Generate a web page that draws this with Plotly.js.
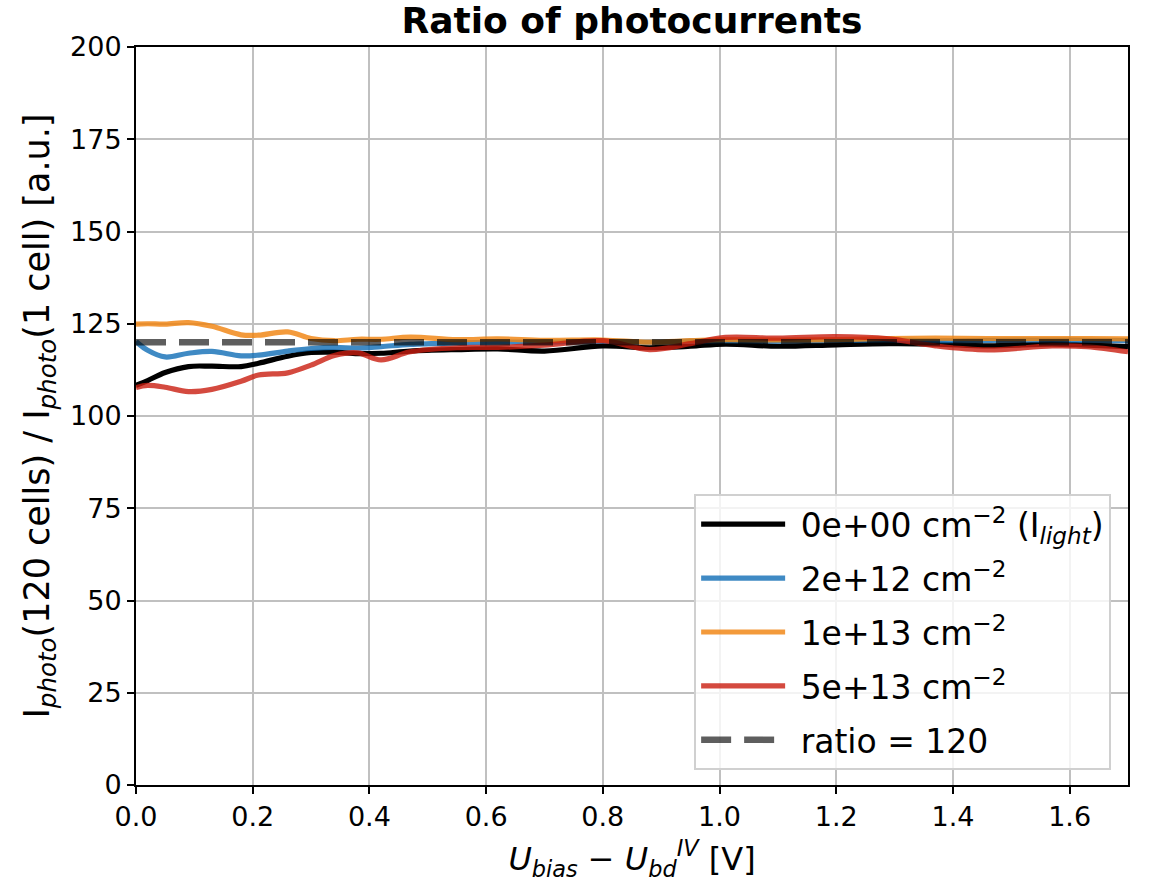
<!DOCTYPE html>
<html>
<head>
<meta charset="utf-8">
<script src="https://cdn.plot.ly/plotly-3.0.1.min.js"></script>
<style>
  html, body { margin: 0; padding: 0; background: #ffffff; }
  #chart { width: 1172px; height: 892px; }
</style>
</head>
<body>
<div id="chart"></div>
<script>
// bias over breakdown voltage [V]
const biasX = [0, 0.02, 0.05, 0.09, 0.13, 0.18, 0.21, 0.26, 0.3, 0.34, 0.38, 0.42, 0.47, 0.55,
               0.62, 0.7, 0.8, 0.88, 0.95, 1.01, 1.1, 1.2, 1.29, 1.37, 1.46, 1.57, 1.63, 1.7];

// ratio I_photo(120 cells) / I_photo(1 cell) per fluence
const ratioF0 = [108.3, 109.6, 111.8, 113.4, 113.5, 113.4, 114.3, 116.2, 117.2, 117.3, 116.9, 117.0, 117.6, 118.0,
                 118.2, 117.6, 119.0, 118.5, 118.9, 119.5, 118.9, 119.3, 119.6, 119.5, 119.0, 119.5, 119.2, 118.8];
const ratioF2e12 = [120.2, 117.8, 116.0, 117.0, 117.5, 116.3, 116.5, 117.6, 118.3, 118.6, 118.4, 118.8, 119.4, 119.8,
                    120.0, 120.0, 120.3, 120.0, 120.3, 120.4, 120.3, 120.5, 120.6, 120.4, 120.5, 120.6, 120.5, 120.4];
const ratioF1e13 = [124.9, 125.0, 124.9, 125.3, 124.3, 122.0, 121.9, 122.8, 121.0, 120.4, 120.8, 120.8, 121.4, 120.7,
                    120.9, 120.5, 120.6, 120.0, 120.4, 120.7, 120.6, 120.7, 121.0, 121.1, 121.0, 121.0, 121.0, 120.9];
const ratioF5e13 = [107.7, 108.3, 107.8, 106.6, 107.2, 109.4, 111.1, 111.7, 113.8, 116.4, 117.1, 115.2, 117.4, 118.5,
                    118.6, 119.2, 120.4, 118.0, 119.6, 121.3, 121.1, 121.5, 120.9, 119.0, 117.9, 119.0, 118.8, 117.4];

const expectedX = [0, 1.7];
const expectedY = [120, 120];

const seriesNames = [
    '0e+00 cm<sup>−2</sup> (I<sub><i>light</i></sub>)',
    '2e+12 cm<sup>−2</sup>',
    '1e+13 cm<sup>−2</sup>',
    '5e+13 cm<sup>−2</sup>',
    'ratio = 120'
];
const seriesColors = ['#000000', 'rgba(15,109,181,0.8)', 'rgba(240,129,10,0.8)', 'rgba(201,29,15,0.8)'];
const seriesValues = [ratioF0, ratioF2e12, ratioF1e13, ratioF5e13];

const FONT = 'DejaVu Sans, Liberation Sans, sans-serif';
const PAD = '\u00a0'; // a bit of room between legend line and label

const traces = seriesValues.map((vals, i) => ({
    x: biasX,
    y: vals,
    mode: 'lines',
    name: PAD + seriesNames[i],
    legendgroup: 'g' + i,
    line: { color: seriesColors[i], width: 5.2, shape: 'spline', smoothing: 1 }
}));

traces.push({
    x: expectedX,
    y: expectedY,
    mode: 'lines',
    name: PAD + seriesNames[4],
    legendgroup: 'g4',
    line: { color: 'rgba(0,0,0,0.63)', width: 6.5, dash: '30px,13px' }
});

const axisCommon = {
    showline: true,
    linecolor: '#000000',
    linewidth: 2,
    mirror: true,
    ticks: 'outside',
    ticklen: 7,
    tickwidth: 2,
    tickcolor: '#000000',
    showgrid: true,
    gridcolor: '#c0c0c0',
    gridwidth: 1.6,
    zeroline: false,
    tickfont: { family: FONT, size: 27, color: '#000000' }
};

const layout = {
    width: 1172,
    height: 892,
    paper_bgcolor: '#ffffff',
    plot_bgcolor: '#ffffff',
    font: { family: FONT, color: '#000000' },
    margin: { l: 136, r: 44, t: 47, b: 107 },
    title: {
        text: '<b>Ratio of photocurrents</b>',
        font: { family: FONT, size: 36, color: '#000000' },
        x: 0.5, xref: 'paper', xanchor: 'center',
        y: 0.977, yref: 'container', yanchor: 'middle'
    },
    xaxis: Object.assign({}, axisCommon, {
        range: [0, 1.7],
        dtick: 0.2,
        tick0: 0,
        tickformat: '.1f',
        title: {
            text: '<i>U</i><sub><i>bias</i></sub> − <i>U</i><sub><i>bd</i></sub><sup><i>IV</i></sup> [V]',
            font: { family: FONT, size: 32 },
            standoff: 16
        }
    }),
    yaxis: Object.assign({}, axisCommon, {
        range: [0, 200],
        dtick: 25,
        tick0: 0,
        title: {
            text: 'I<sub><i>photo</i></sub>(120 cells) / I<sub><i>photo</i></sub>(1 cell) [a.u.]',
            font: { family: FONT, size: 35 },
            standoff: 10
        }
    }),
    showlegend: true,
    legend: {
        x: 0.983, xanchor: 'right',
        y: 0.02, yanchor: 'bottom',
        bgcolor: 'rgba(255,255,255,0.8)',
        bordercolor: '#d0d0d0',
        borderwidth: 2,
        font: { family: FONT, size: 33, color: '#000000' },
        traceorder: 'grouped',
        tracegroupgap: 8,
        itemwidth: 84
    }
};

Plotly.newPlot('chart', traces, layout, { displayModeBar: false, responsive: false });
</script>
</body>
</html>
